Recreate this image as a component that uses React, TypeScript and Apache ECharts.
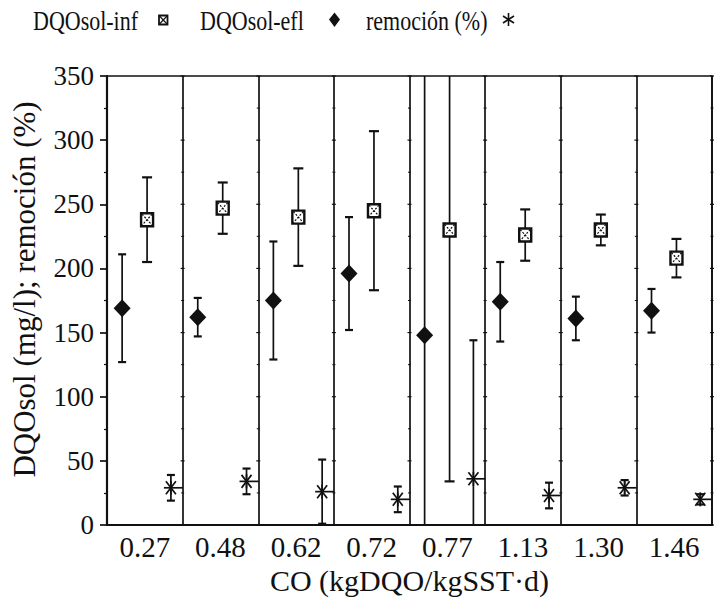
import { useEffect, useRef } from "react";
import * as echarts from "echarts";

// Organic load (CO) categories, kgDQO/kgSST·d
const categories = ["0.27", "0.48", "0.62", "0.72", "0.77", "1.13", "1.30", "1.46"];

// Soluble COD, influent (mg/l): mean and standard deviation
const infMean = [238, 247, 240, 245, 230, 226, 230, 208];
const infErr = [33, 20, 38, 62, 196, 20, 12, 15];

// Soluble COD, effluent (mg/l): mean and standard deviation
const eflMean = [169, 162, 175, 196, 148, 174, 161, 167];
const eflErr = [42, 15, 46, 44, 215, 31, 17, 17];

// Removal (%): mean and standard deviation
const remMean = [29, 34, 26, 20, 36, 23, 29, 20];
const remErr = [10, 10, 25, 10, 108, 10, 6, 4];

const yTicks = [0, 50, 100, 150, 200, 250, 300, 350];

const FONT = '"Liberation Serif", "Times New Roman", Times, serif';
const INK = "#111";

type Marker = "square" | "diamond" | "star";

function makeRenderer(marker: Marker, offset: number, capHalf: number) {
  return (params: any, api: any) => {
    const i = api.value(0);
    const v = api.value(1);
    const e = api.value(2);
    const cs = params.coordSys;
    const center = api.coord([i, v]);
    const band = api.size([1, 0])[0];
    const x = center[0] + (offset - 0.5) * band;
    const y = center[1];
    const top = api.coord([i, v + e])[1];
    const bot = api.coord([i, v - e])[1];
    const yMin = cs.y;
    const yMax = cs.y + cs.height;
    const t = Math.max(top, yMin);
    const b = Math.min(bot, yMax);
    const stroke = { stroke: INK, lineWidth: 1.7 };
    const children: any[] = [
      { type: "line", shape: { x1: x, y1: t, x2: x, y2: b }, style: stroke },
    ];
    if (top >= yMin - 0.5) {
      children.push({
        type: "line",
        shape: { x1: x - capHalf, y1: top, x2: x + capHalf, y2: top },
        style: { stroke: INK, lineWidth: 2.2 },
      });
    }
    if (bot <= yMax + 0.5) {
      children.push({
        type: "line",
        shape: { x1: x - capHalf, y1: bot, x2: x + capHalf, y2: bot },
        style: { stroke: INK, lineWidth: 2.2 },
      });
    }
    if (marker === "square") {
      children.push(
        {
          type: "rect",
          shape: { x: x - 6, y: y - 6.5, width: 12, height: 13 },
          style: { fill: "#fff", stroke: INK, lineWidth: 2.4 },
        },
        {
          type: "line",
          shape: { x1: x - 5, y1: y - 5.5, x2: x + 5, y2: y + 5.5 },
          style: { stroke: INK, lineWidth: 1.2, lineDash: [2, 1.5] },
        },
        {
          type: "line",
          shape: { x1: x + 5, y1: y - 5.5, x2: x - 5, y2: y + 5.5 },
          style: { stroke: INK, lineWidth: 1.2, lineDash: [2, 1.5] },
        }
      );
    } else if (marker === "diamond") {
      children.push({
        type: "polygon",
        shape: {
          points: [
            [x, y - 9],
            [x + 8.5, y],
            [x, y + 9],
            [x - 8.5, y],
          ],
        },
        style: { fill: INK },
      });
    } else {
      children.push(
        { type: "line", shape: { x1: x - 7, y1: y, x2: x + 12, y2: y }, style: { stroke: INK, lineWidth: 1.7 } },
        { type: "line", shape: { x1: x - 5, y1: y - 6.5, x2: x + 5, y2: y + 6.5 }, style: { stroke: INK, lineWidth: 1.7 } },
        { type: "line", shape: { x1: x - 5, y1: y + 6.5, x2: x + 5, y2: y - 6.5 }, style: { stroke: INK, lineWidth: 1.7 } },
        { type: "line", shape: { x1: x, y1: y - 7, x2: x, y2: y + 7 }, style: { stroke: INK, lineWidth: 1.7 } }
      );
    }
    return { type: "group", children };
  };
}

// Small tick marks along every panel divider and the right border
function dividerTicks(params: any, api: any) {
  const i = api.value(0);
  const cs = params.coordSys;
  const band = api.size([1, 0])[0];
  const xr = api.coord([i, 0])[0] + band / 2;
  const children: any[] = [];
  for (let k = 0; k < yTicks.length; k++) {
    const yy = api.coord([i, yTicks[k]])[1];
    children.push({
      type: "line",
      shape: { x1: xr - 2, y1: yy, x2: xr + 2, y2: yy },
      style: { stroke: INK, lineWidth: 1.2 },
    });
    if (k < yTicks.length - 1) {
      const ym = api.coord([i, (yTicks[k] + yTicks[k + 1]) / 2])[1];
      children.push({
        type: "line",
        shape: { x1: xr - 1.5, y1: ym, x2: xr + 1.5, y2: ym },
        style: { stroke: INK, lineWidth: 1 },
      });
    }
  }
  if (xr > cs.x + cs.width + 1) return null;
  return { type: "group", children };
}

function legendGraphics() {
  const txt = (text: string, x: number) => ({
    type: "text",
    x,
    y: 21,
    scaleY: 1.2,
    style: {
      text,
      font: `22px ${FONT}`,
      fill: INK,
      verticalAlign: "middle",
      align: "left",
    },
  });
  return [
    txt("DQOsol-inf", 33),
    {
      type: "rect",
      shape: { x: 159, y: 15.5, width: 8.5, height: 9 },
      style: { fill: "#fff", stroke: INK, lineWidth: 1.8 },
    },
    { type: "line", shape: { x1: 159.5, y1: 16, x2: 167, y2: 24 }, style: { stroke: INK, lineWidth: 1.1 } },
    { type: "line", shape: { x1: 167, y1: 16, x2: 159.5, y2: 24 }, style: { stroke: INK, lineWidth: 1.1 } },
    txt("DQOsol-efl", 200),
    {
      type: "polygon",
      shape: { points: [[334.5, 12.5], [340, 19.5], [334.5, 27], [329, 19.5]] },
      style: { fill: INK },
    },
    txt("remoción (%)", 366),
    { type: "line", shape: { x1: 508.5, y1: 13, x2: 508.5, y2: 26 }, style: { stroke: INK, lineWidth: 1.6 } },
    { type: "line", shape: { x1: 503, y1: 16, x2: 514, y2: 23 }, style: { stroke: INK, lineWidth: 1.6 } },
    { type: "line", shape: { x1: 503, y1: 23, x2: 514, y2: 16 }, style: { stroke: INK, lineWidth: 1.6 } },
  ];
}

export default function App() {
  const ref = useRef<HTMLDivElement>(null);

  useEffect(() => {
    if (!ref.current) return;
    const chart = echarts.init(ref.current, undefined, { renderer: "svg" });
    const toData = (mean: number[], err: number[]) => categories.map((_, i) => [i, mean[i], err[i]]);

    chart.setOption({
      animation: false,
      backgroundColor: "#fff",
      textStyle: { fontFamily: FONT, color: INK },
      grid: {
        left: 107,
        right: 5,
        top: 76,
        bottom: 76,
        show: true,
        borderColor: INK,
        borderWidth: 1.7,
        containLabel: false,
      },
      xAxis: {
        type: "category",
        data: categories,
        boundaryGap: true,
        axisLine: { show: true, lineStyle: { color: INK, width: 2.2 } },
        axisTick: { show: false },
        axisLabel: { fontSize: 29, fontFamily: FONT, color: INK, margin: 7 },
        splitLine: { show: true, interval: 0, lineStyle: { color: INK, width: 1.7 } },
        name: "CO (kgDQO/kgSST·d)",
        nameLocation: "middle",
        nameGap: 38,
        nameTextStyle: { fontSize: 30, fontFamily: FONT, color: INK },
      },
      yAxis: {
        type: "value",
        min: 0,
        max: 350,
        interval: 50,
        axisLine: { show: true, lineStyle: { color: INK, width: 2.2 } },
        axisTick: { show: true, length: 7, lineStyle: { color: INK, width: 1.7 } },
        minorTick: { show: true, splitNumber: 2, length: 3, lineStyle: { color: INK, width: 1.2 } },
        splitLine: { show: false },
        axisLabel: { fontSize: 27, fontFamily: FONT, color: INK, margin: 13 },
        name: "DQOsol (mg/l); remoción (%)",
        nameLocation: "middle",
        nameGap: 67,
        nameTextStyle: { fontSize: 31, fontFamily: FONT, color: INK, padding: [0, 0, 0, 22] },
      },
      graphic: legendGraphics(),
      series: [
        {
          type: "custom",
          name: "divisiones",
          silent: true,
          renderItem: dividerTicks,
          data: categories.map((_, i) => [i]),
          encode: { x: 0 },
          clip: false,
        },
        {
          type: "custom",
          name: "DQOsol-efl",
          renderItem: makeRenderer("diamond", 0.2, 4),
          data: toData(eflMean, eflErr),
          encode: { x: 0, y: 1 },
          clip: false,
        },
        {
          type: "custom",
          name: "DQOsol-inf",
          renderItem: makeRenderer("square", 0.53, 5),
          data: toData(infMean, infErr),
          encode: { x: 0, y: 1 },
          clip: false,
        },
        {
          type: "custom",
          name: "remoción (%)",
          renderItem: makeRenderer("star", 0.845, 4),
          data: toData(remMean, remErr),
          encode: { x: 0, y: 1 },
          clip: false,
        },
      ],
    });

    return () => chart.dispose();
  }, []);

  return (
    <div
      ref={ref}
      style={{ position: "fixed", left: 0, top: 0, width: 717, height: 601, background: "#fff" }}
    />
  );
}
